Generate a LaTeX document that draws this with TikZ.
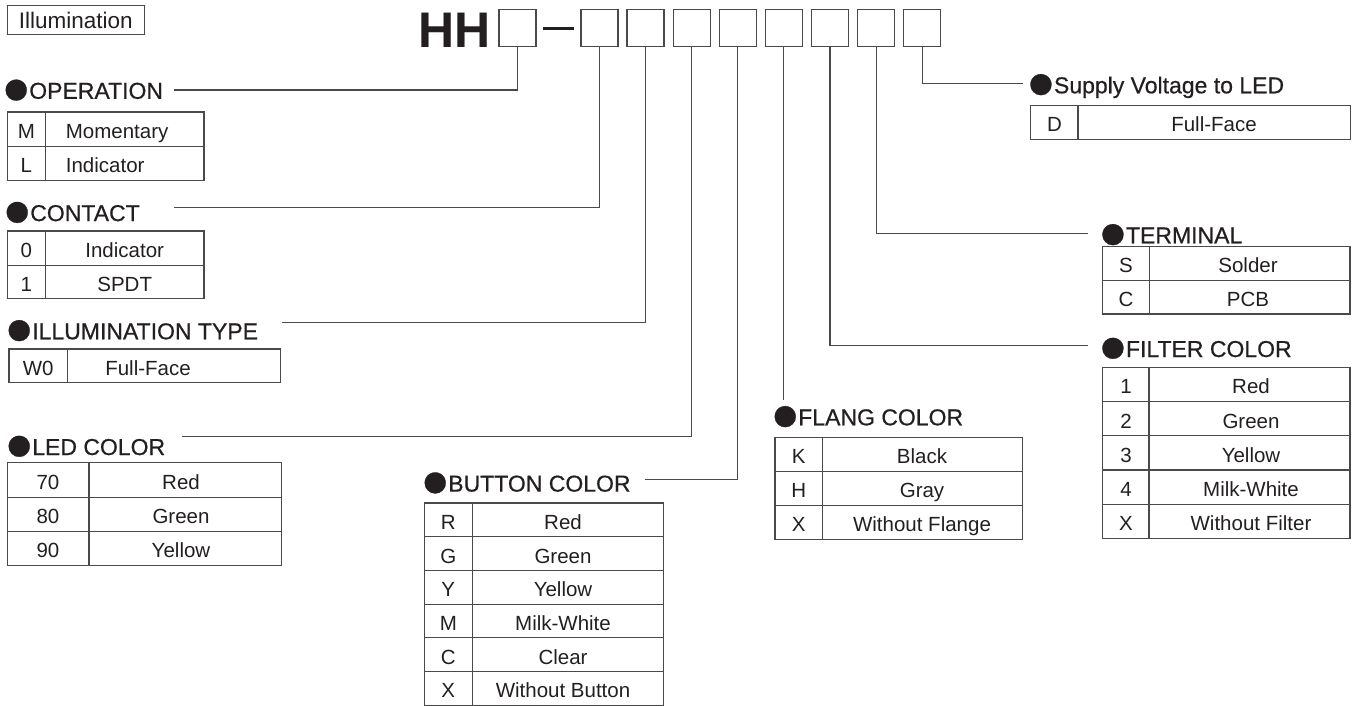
\documentclass[tikz,border=0pt]{standalone}
\usepackage{fontspec}
\setmainfont{Liberation Sans}
\newfontfamily\headfont[FakeBold=0.6]{Liberation Sans}
\definecolor{ink}{HTML}{231F20}
\definecolor{rule}{HTML}{4A4A4A}
\newcommand\blt{\hspace{-4.7pt}\raisebox{-5.1pt}{\fontsize{48.8}{48.8}\selectfont ●}\hspace{-1.7pt}}

\begin{document}
\begin{tikzpicture}[x=1pt,y=-1pt,
  cell/.style={inner sep=0pt,text height=14.8pt,text depth=0pt,text=ink,
    font=\fontsize{20.5}{20.5}\selectfont},
  head/.style={anchor=west,inner sep=0pt,text height=16.6pt,text depth=0pt,text=ink,
    font=\headfont\fontsize{23}{23}\selectfont},
  digit/.style={draw=rule,line width=1.3pt,minimum width=37,minimum height=37,inner sep=0pt},
  tab/.style={draw=rule,line width=1.2pt},
  link/.style={draw=rule,line width=1.1pt}]

\useasboundingbox (0,0) rectangle (1359,706);

\node[draw=rule,line width=1.1pt,minimum width=137,minimum height=29,inner sep=0pt,
  text height=16.2pt,text depth=0pt,text=ink,font=\fontsize{22.5}{22.5}\selectfont]
  (series) at (75.8,20.2) {Illumination};

% model code
\node[inner sep=0pt,text height=35.8pt,text depth=0pt,text=ink,
  font=\bfseries\fontsize{50}{50}\selectfont] (hh) at (454.2,29.5) {HH};
\node[digit] (b1) at (517.5,28.3) {};
\draw[ink,line width=2.8pt] (543.3,28.3) -- (574.3,28.3);
\node[digit] (b2) at (599.5,28.3) {};
\node[digit] (b3) at (645.6,28.3) {};
\node[digit] (b4) at (691.7,28.3) {};
\node[digit] (b5) at (737.8,28.3) {};
\node[digit] (b6) at (783.9,28.3) {};
\node[digit] (b7) at (830.0,28.3) {};
\node[digit] (b8) at (876.1,28.3) {};
\node[digit] (b9) at (922.2,28.3) {};

% leaders
\coordinate (e1) at (174,90);
\coordinate (e2) at (174,207.3);
\coordinate (e3) at (281.7,322.7);
\coordinate (e4) at (181.7,436.5);
\coordinate (e5) at (645,479.3);
\coordinate (e6) at (783.9,400);
\coordinate (e7) at (1088,345.7);
\coordinate (e8) at (1088,233.3);
\coordinate (e9) at (1023,83.3);
\draw[link] (b1.south) |- (e1);
\draw[link] (b2.south) |- (e2);
\draw[link] (b3.south) |- (e3);
\draw[link] (b4.south) |- (e4);
\draw[link] (b5.south) |- (e5);
\draw[link] (b6.south) -- (e6);
\draw[link] (b7.south) |- (e7);
\draw[link] (b8.south) |- (e8);
\draw[link] (b9.south) |- (e9);

% OPERATION
\node[head] (op) at (6,90.5) {\blt OPERATION};
\draw[tab] (7.3,112) rectangle (204,180.3);
\draw[tab] (45.3,112) -- (45.3,180.3) (7.3,146.3) -- (204,146.3);
\node[cell] (opk1) at (26.3,131.2) {M};
\node[cell,anchor=west] (opv1) at (65.7,131.2) {Momentary};
\node[cell] (opk2) at (26.3,165.3) {L};
\node[cell,anchor=west] (opv2) at (65.7,165.3) {Indicator};

% CONTACT
\node[head] (ct) at (7,212.8) {\blt CONTACT};
\draw[tab] (7.3,231) rectangle (204,298.3);
\draw[tab] (45.3,231) -- (45.3,298.3) (7.3,265.3) -- (204,265.3);
\node[cell] (ctk1) at (26.3,250.2) {0};
\node[cell] (ctv1) at (124.7,250.2) {Indicator};
\node[cell] (ctk2) at (26.3,283.8) {1};
\node[cell] (ctv2) at (124.7,283.8) {SPDT};

% ILLUMINATION TYPE
\node[head] (it) at (9,331) {\blt ILLUMINATION TYPE};
\draw[tab] (9,349) rectangle (280.7,382.7);
\draw[tab] (67.3,349) -- (67.3,382.7);
\node[cell] (itk1) at (38.2,367.9) {W0};
\node[cell] (itv1) at (148,367.9) {Full-Face};

% LED COLOR
\node[head] (led) at (9,446.7) {\blt LED COLOR};
\draw[tab] (7.3,462.7) rectangle (281.7,565.3);
\draw[tab] (89,462.7) -- (89,565.3) (7.3,497.3) -- (281.7,497.3) (7.3,531.3) -- (281.7,531.3);
\node[cell] (ledk1) at (48,482) {70};
\node[cell] (ledv1) at (181,482) {Red};
\node[cell] (ledk2) at (48,516.3) {80};
\node[cell] (ledv2) at (181,516.3) {Green};
\node[cell] (ledk3) at (48,550.3) {90};
\node[cell] (ledv3) at (181,550.3) {Yellow};

% BUTTON COLOR
\node[head] (bt) at (425,483.3) {\blt BUTTON COLOR};
\draw[tab] (424.3,503) rectangle (663.3,705.2);
\draw[tab] (472.3,503) -- (472.3,705.2);
\draw[tab] (424.3,536.7) -- (663.3,536.7) (424.3,570.4) -- (663.3,570.4)
  (424.3,604.1) -- (663.3,604.1) (424.3,637.8) -- (663.3,637.8) (424.3,671.5) -- (663.3,671.5);
\node[cell] (btk1) at (448.3,521.9) {R};
\node[cell] (btv1) at (563,521.9) {Red};
\node[cell] (btk2) at (448.3,555.6) {G};
\node[cell] (btv2) at (563,555.6) {Green};
\node[cell] (btk3) at (448.3,589.3) {Y};
\node[cell] (btv3) at (563,589.3) {Yellow};
\node[cell] (btk4) at (448.3,623) {M};
\node[cell] (btv4) at (563,623) {Milk-White};
\node[cell] (btk5) at (448.3,656.7) {C};
\node[cell] (btv5) at (563,656.7) {Clear};
\node[cell] (btk6) at (448.3,690.4) {X};
\node[cell] (btv6) at (563,690.4) {Without Button};

% FLANG COLOR
\node[head] (fl) at (775,417) {\blt FLANG COLOR};
\draw[tab] (775,437.3) rectangle (1022.7,539.3);
\draw[tab] (822.3,437.3) -- (822.3,539.3) (775,471.3) -- (1022.7,471.3) (775,505.3) -- (1022.7,505.3);
\node[cell] (flk1) at (798.7,456.3) {K};
\node[cell] (flv1) at (922,456.3) {Black};
\node[cell] (flk2) at (798.7,490.3) {H};
\node[cell] (flv2) at (922,490.3) {Gray};
\node[cell] (flk3) at (798.7,524.3) {X};
\node[cell] (flv3) at (922,524.3) {Without Flange};

% Supply Voltage to LED
\node[head] (sv) at (1030.7,85) {\blt Supply Voltage to LED};
\draw[tab] (1030.7,105.7) rectangle (1350.7,139.3);
\draw[tab] (1078,105.7) -- (1078,139.3);
\node[cell] (svk1) at (1054.5,124.5) {D};
\node[cell] (svv1) at (1214,124.5) {Full-Face};

% TERMINAL
\node[head] (tm) at (1102.7,235) {\blt TERMINAL};
\draw[tab] (1102.7,246.7) rectangle (1350,314);
\draw[tab] (1149.3,246.7) -- (1149.3,314) (1102.7,280.4) -- (1350,280.4);
\node[cell] (tmk1) at (1126,265.5) {S};
\node[cell] (tmv1) at (1248,265.5) {Solder};
\node[cell] (tmk2) at (1126,299.2) {C};
\node[cell] (tmv2) at (1248,299.2) {PCB};

% FILTER COLOR
\node[head] (ft) at (1102.7,348.7) {\blt FILTER COLOR};
\draw[tab] (1102.7,367.3) rectangle (1350,538.3);
\draw[tab] (1149,367.3) -- (1149,538.3);
\draw[tab] (1102.7,401.5) -- (1350,401.5) (1102.7,435.7) -- (1350,435.7)
  (1102.7,469.9) -- (1350,469.9) (1102.7,504.1) -- (1350,504.1);
\node[cell] (ftk1) at (1126,386.4) {1};
\node[cell] (ftv1) at (1251,386.4) {Red};
\node[cell] (ftk2) at (1126,420.6) {2};
\node[cell] (ftv2) at (1251,420.6) {Green};
\node[cell] (ftk3) at (1126,454.8) {3};
\node[cell] (ftv3) at (1251,454.8) {Yellow};
\node[cell] (ftk4) at (1126,489) {4};
\node[cell] (ftv4) at (1251,489) {Milk-White};
\node[cell] (ftk5) at (1126,523.2) {X};
\node[cell] (ftv5) at (1251,523.2) {Without Filter};
\end{tikzpicture}
\end{document}
